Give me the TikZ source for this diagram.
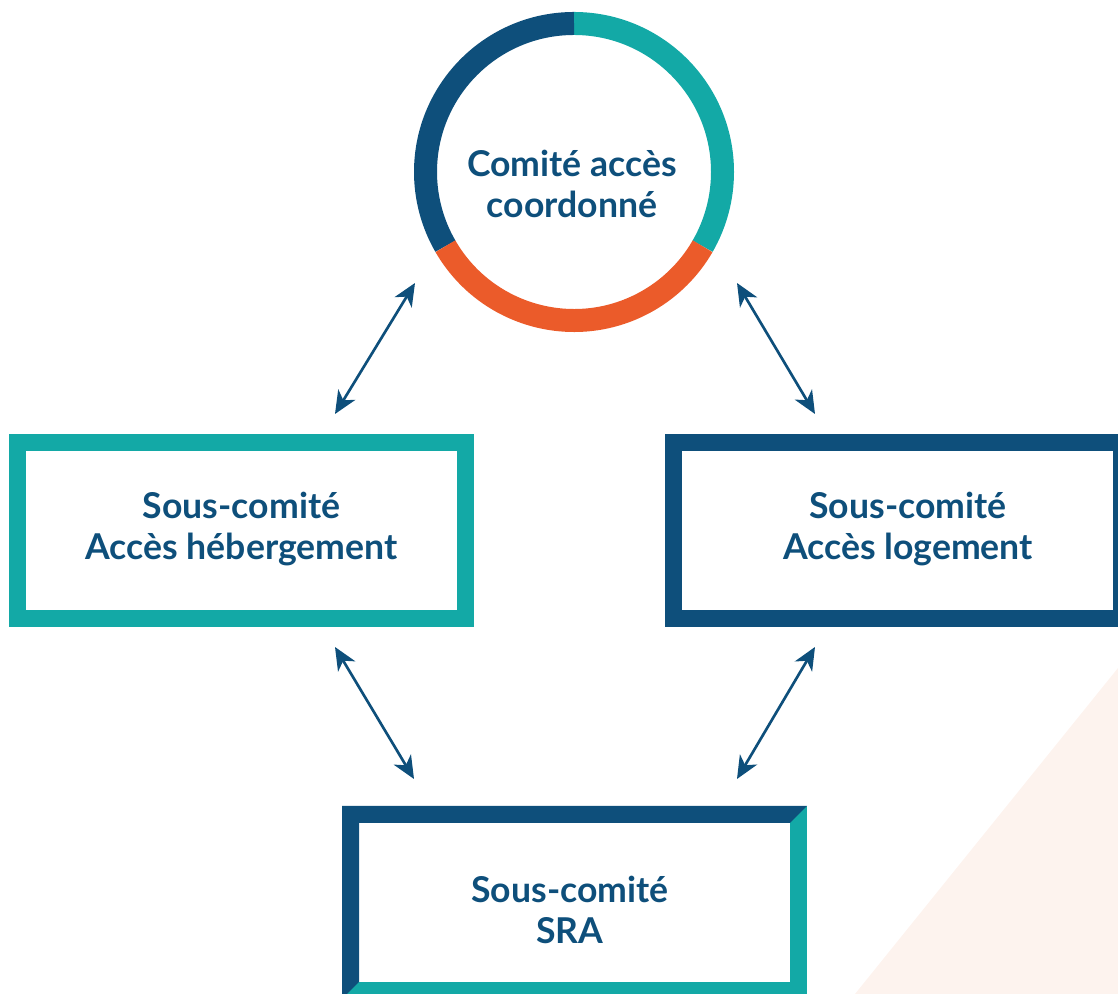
\documentclass[tikz,border=0pt]{standalone}
\usepackage{fontspec}
\setmainfont{Lato}
\usetikzlibrary{arrows.meta}
\definecolor{navy}{HTML}{0E4F7B}
\definecolor{tealc}{HTML}{13A9A6}
\definecolor{orangec}{HTML}{EB5B2A}
\definecolor{peach}{HTML}{FDF3EE}
\tikzset{
    boxnode/.style={
        rectangle,
        draw=#1, % couleur du cadre
        line width=12.75pt, % cadre épais
        outer sep=6.375pt,
        minimum width=336pt,
        minimum height=132pt,
        inner sep=0
    },
    labnode/.style={
        align=center,
        text=navy,
        inner sep=0,
        font=\fontsize{26.7}{31}\selectfont\bfseries
    },
    ring/.style={
        line width=17.25pt,
        line cap=butt
    },
    biarrow/.style={
        {Stealth[length=17pt,width=15pt,inset=5pt]}-{Stealth[length=17pt,width=15pt,inset=5pt]},
        draw=navy,
        line width=2pt
    }
}
\begin{document}
\begin{tikzpicture}[x=0.75pt,y=0.75pt]
    \clip (0,0) rectangle (1118,994);
    % fond
    \fill[peach] (855,0) -- (1118,326) -- (1118,0) -- cycle;

    % comité central
    \coordinate (ctr) at (574,822);
    \draw[ring, tealc] (ctr) ++(90:148.5) arc[start angle=90, end angle=-30, radius=148.5];
    \draw[ring, navy] (ctr) ++(90:148.5) arc[start angle=90, end angle=210, radius=148.5];
    \draw[ring, orangec] (ctr) ++(210:148.5) arc[start angle=210, end angle=330, radius=148.5];
    \node[labnode] (cac) at (572,810) {Comité accès\\coordonné};

    % sous-comités
    \node[boxnode=tealc] (hbbox) at (241.5,463.5) {};
    \node[labnode] (hb) at (241.5,465) {Sous-comité\\Accès hébergement};

    \node[boxnode=navy] (lgbox) at (897.75,463.5) {};
    \node[labnode] (lg) at (908,465) {Sous-comité\\Accès logement};

    \node[boxnode=tealc] (srabox) at (574.5,91.5) {};
    \fill[navy] (srabox.north west) -- (srabox.north east)
        -- ([shift={(-17,-17)}]srabox.north east) -- ([shift={(17,-17)}]srabox.north west)
        -- ([shift={(17,17)}]srabox.south west) -- (srabox.south west) -- cycle;
    \node[labnode] (sra) at (570,84) {Sous-comité\\SRA};

    % flèches
    \coordinate (a1) at (335,580);  \coordinate (b1) at (415,711);
    \coordinate (a2) at (815,580);  \coordinate (b2) at (737,711);
    \coordinate (a3) at (335,347);  \coordinate (b3) at (414,215);
    \coordinate (a4) at (815,347);  \coordinate (b4) at (737,215);
    \draw[biarrow] (a1) -- (b1);
    \draw[biarrow] (a2) -- (b2);
    \draw[biarrow] (a3) -- (b3);
    \draw[biarrow] (a4) -- (b4);
\end{tikzpicture}
\end{document}
